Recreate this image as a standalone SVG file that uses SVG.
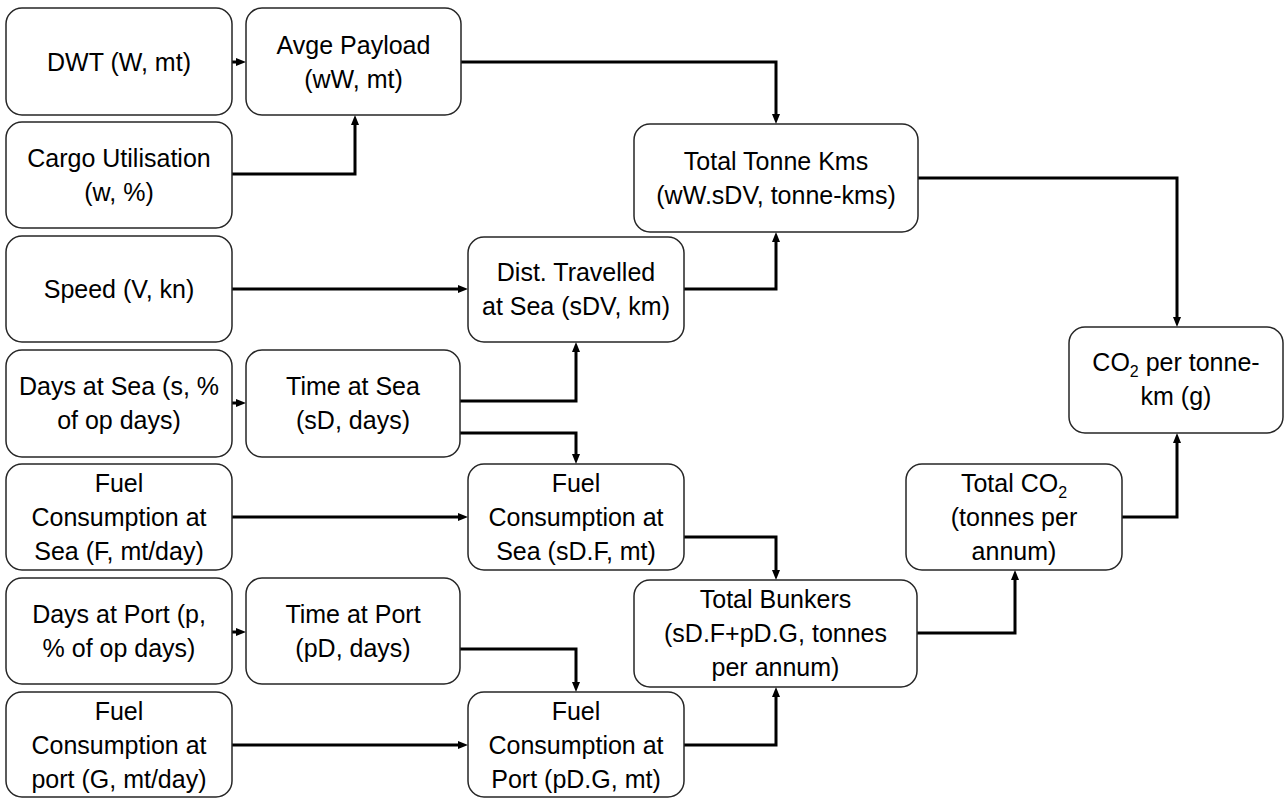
<svg xmlns="http://www.w3.org/2000/svg" width="1285" height="798" viewBox="0 0 1285 798">
<style>
.box{fill:#fff;stroke:#262626;stroke-width:1.5}
.t{font-family:"Liberation Sans",Arial,sans-serif;font-size:25px;fill:#000;text-anchor:middle}
.c{fill:none;stroke:#000;stroke-width:3;marker-end:url(#ah)}
.sub{font-size:16px}
</style>
<defs>
<marker id="ah" viewBox="0 0 10 8" refX="1" refY="4" markerWidth="10" markerHeight="8" markerUnits="userSpaceOnUse" orient="auto">
<path d="M0,0 L10,4 L0,8 z" fill="#000"/>
</marker>
</defs>
<rect width="1285" height="798" fill="#fff"/>
<g id="connectors">
<path class="c" d="M232,62 H237"/>
<path class="c" d="M232,174 H355 V124"/>
<path class="c" d="M460,62 H776 V115"/>
<path class="c" d="M232,289 H459"/>
<path class="c" d="M684,289 H776 V241"/>
<path class="c" d="M918,178 H1177 V318"/>
<path class="c" d="M232,403 H237"/>
<path class="c" d="M460,401 H576 V351"/>
<path class="c" d="M460,433 H576 V455"/>
<path class="c" d="M232,517 H459"/>
<path class="c" d="M684,537 H776 V571"/>
<path class="c" d="M1122,517 H1177 V442"/>
<path class="c" d="M917,633 H1015 V579"/>
<path class="c" d="M232,632 H237"/>
<path class="c" d="M460,649 H576 V683"/>
<path class="c" d="M232,745 H459"/>
<path class="c" d="M684,745 H776 V696"/>
</g>
<g id="dwt"><rect class="box" x="6" y="8" width="226" height="107" rx="16"/><text class="t" x="119" y="71">DWT (W, mt)</text></g>
<g id="cargo"><rect class="box" x="6" y="122" width="226" height="106" rx="16"/><text class="t" x="119" y="167">Cargo Utilisation</text><text class="t" x="119" y="201">(w, %)</text></g>
<g id="speed"><rect class="box" x="6" y="236" width="226" height="106" rx="16"/><text class="t" x="119" y="298">Speed (V, kn)</text></g>
<g id="daysea"><rect class="box" x="6" y="350" width="226" height="107" rx="16"/><text class="t" x="119" y="395">Days at Sea (s, %</text><text class="t" x="119" y="429">of op days)</text></g>
<g id="fuelseain"><rect class="box" x="6" y="464" width="226" height="106" rx="16"/><text class="t" x="119" y="492">Fuel</text><text class="t" x="119" y="526">Consumption at</text><text class="t" x="119" y="560">Sea (F, mt/day)</text></g>
<g id="dayport"><rect class="box" x="6" y="578" width="226" height="106" rx="16"/><text class="t" x="119" y="623">Days at Port (p,</text><text class="t" x="119" y="657">% of op days)</text></g>
<g id="fuelportin"><rect class="box" x="6" y="692" width="226" height="105" rx="16"/><text class="t" x="119" y="720">Fuel</text><text class="t" x="119" y="754">Consumption at</text><text class="t" x="119" y="788">port (G, mt/day)</text></g>
<g id="payload"><rect class="box" x="246" y="8" width="215" height="107" rx="16"/><text class="t" x="353.5" y="54">Avge Payload</text><text class="t" x="353.5" y="88">(wW, mt)</text></g>
<g id="timesea"><rect class="box" x="246" y="350" width="214" height="107" rx="16"/><text class="t" x="353" y="395">Time at Sea</text><text class="t" x="353" y="429">(sD, days)</text></g>
<g id="timeport"><rect class="box" x="246" y="578" width="214" height="106" rx="16"/><text class="t" x="353" y="623">Time at Port</text><text class="t" x="353" y="657">(pD, days)</text></g>
<g id="dist"><rect class="box" x="468" y="237" width="216" height="105" rx="16"/><text class="t" x="576" y="281">Dist. Travelled</text><text class="t" x="576" y="315">at Sea (sDV, km)</text></g>
<g id="fuelsea"><rect class="box" x="468" y="464" width="216" height="106" rx="16"/><text class="t" x="576" y="492">Fuel</text><text class="t" x="576" y="526">Consumption at</text><text class="t" x="576" y="560">Sea (sD.F, mt)</text></g>
<g id="fuelport"><rect class="box" x="468" y="692" width="216" height="105" rx="16"/><text class="t" x="576" y="720">Fuel</text><text class="t" x="576" y="754">Consumption at</text><text class="t" x="576" y="788">Port (pD.G, mt)</text></g>
<g id="ttk"><rect class="box" x="634" y="124" width="284" height="108" rx="16"/><text class="t" x="776" y="170">Total Tonne Kms</text><text class="t" x="776" y="204">(wW.sDV, tonne-kms)</text></g>
<g id="bunkers"><rect class="box" x="634" y="580" width="283" height="107" rx="16"/><text class="t" x="775.5" y="608">Total Bunkers</text><text class="t" x="775.5" y="642">(sD.F+pD.G, tonnes</text><text class="t" x="775.5" y="676">per annum)</text></g>
<g id="totalco2"><rect class="box" x="906" y="464" width="216" height="106" rx="16"/><text class="t" x="1014" y="492">Total CO<tspan class="sub" dy="6">2</tspan></text><text class="t" x="1014" y="526">(tonnes per</text><text class="t" x="1014" y="560">annum)</text></g>
<g id="co2tkm"><rect class="box" x="1069" y="327" width="214" height="106" rx="16"/><text class="t" x="1176" y="371">CO<tspan class="sub" dy="6">2</tspan><tspan dy="-6"> per tonne-</tspan></text><text class="t" x="1176" y="405">km (g)</text></g>
</svg>
